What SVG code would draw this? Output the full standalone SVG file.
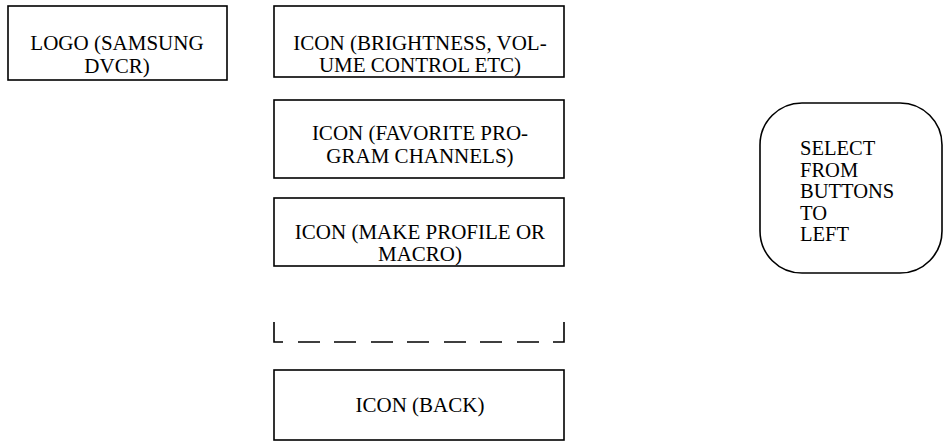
<svg xmlns="http://www.w3.org/2000/svg" width="946" height="443" viewBox="0 0 946 443">
<style>
.box{fill:none;stroke:#000;stroke-width:1.6}
.dash{fill:none;stroke:#000;stroke-width:1.6}
text{font-family:"Liberation Serif","Times New Roman",serif;font-size:21px;fill:#000}
.c{text-anchor:middle}
.n{font-size:20.5px}
</style>
<rect width="946" height="443" fill="#fff"/>
<g id="logo">
<rect class="box" x="8" y="6" width="219" height="74"/>
<text class="c" x="117" y="50">LOGO (SAMSUNG</text>
<text class="c" x="117" y="73">DVCR)</text>
</g>
<g id="icon-brightness">
<rect class="box" x="274" y="6" width="290" height="71"/>
<text class="c" x="420" y="50">ICON (BRIGHTNESS, VOL-</text>
<text class="c" x="420" y="72">UME CONTROL ETC)</text>
</g>
<g id="icon-favorite">
<rect class="box" x="274" y="100" width="290" height="78"/>
<text class="c" x="420" y="140">ICON (FAVORITE PRO-</text>
<text class="c" x="420" y="163">GRAM CHANNELS)</text>
</g>
<g id="icon-profile">
<rect class="box" x="274" y="198" width="290" height="68"/>
<text class="c" x="420" y="239">ICON (MAKE PROFILE OR</text>
<text class="c" x="420" y="261">MACRO)</text>
</g>
<g id="placeholder">
<path class="dash" d="M274 322 V342 H283 M298 342 H320 M334 342 H356 M371 342 H393 M407 342 H429 M444 342 H466 M480 342 H502 M517 342 H539 M553 342 H564 V322"/>
</g>
<g id="icon-back">
<rect class="box" x="274" y="370" width="290" height="70"/>
<text class="c" x="420" y="412">ICON (BACK)</text>
</g>
<g id="select-note">
<rect class="box" x="760" y="103" width="182" height="170" rx="42" ry="42"/>
<text class="n" x="800" y="155">SELECT</text>
<text class="n" x="800" y="176.5">FROM</text>
<text class="n" x="800" y="198">BUTTONS</text>
<text class="n" x="800" y="219.5">TO</text>
<text class="n" x="800" y="241">LEFT</text>
</g>
<g id="connectors"></g>
</svg>
